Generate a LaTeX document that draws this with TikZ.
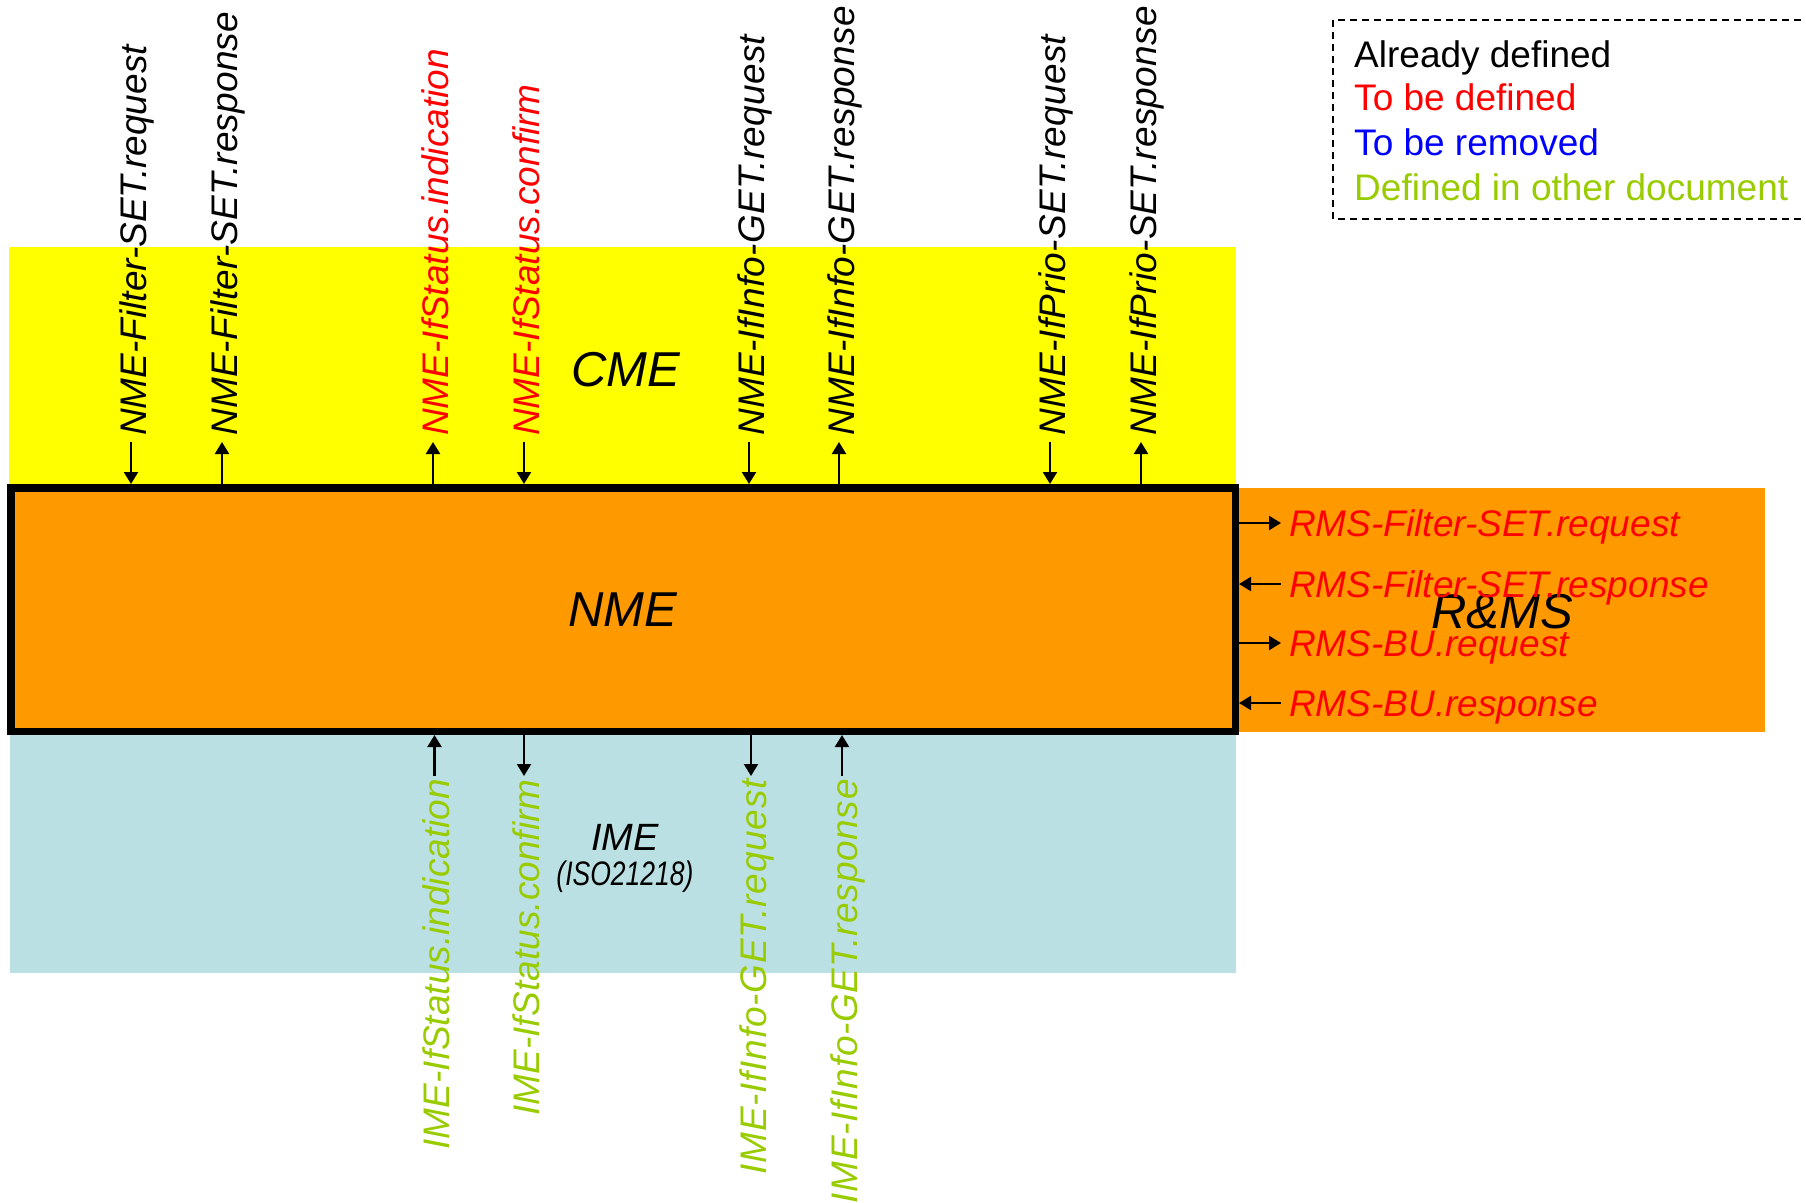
\documentclass[tikz,border=0pt]{standalone}
\usepackage{fontspec}
\setmainfont{Liberation Sans}
\usetikzlibrary{arrows.meta}
\definecolor{cmeyellow}{RGB}{255,255,0}
\definecolor{nmeorange}{RGB}{255,153,0}
\definecolor{imeblue}{RGB}{187,224,227}
\definecolor{tbdred}{RGB}{255,0,0}
\definecolor{rmvblue}{RGB}{0,0,255}
\definecolor{othergreen}{RGB}{153,204,0}

\begin{document}
\begin{tikzpicture}[x=1pt,y=-1pt,
  tipshape/.style={line width=2.2pt},
  into/.style={tipshape, -{Triangle[length=12pt,width=14pt]}},
  outof/.style={tipshape, {Triangle[length=12pt,width=14pt]}-},
  prim/.style={font=\fontsize{37}{44}\selectfont\itshape, inner sep=0pt},
  vprim/.style={prim, rotate=90},
  entity/.style={font=\fontsize{49}{58}\selectfont\itshape, inner sep=0pt},
  legendtxt/.style={font=\fontsize{37}{44}\selectfont, inner sep=0pt, anchor=base west}]

\useasboundingbox (0,0) rectangle (1806,1202);
\clip (0,0) rectangle (1806,1202);

% management entity areas
\fill[cmeyellow] (9,246.5) rectangle (1236,490);
\fill[imeblue] (10,730) rectangle (1236,973);
\fill[nmeorange] (1235,488) rectangle (1765,732);

% NME block
\node[draw, line width=7.5pt, fill=nmeorange, minimum width=1224.5pt,
      minimum height=243.5pt, entity] (nme) at (623,609.5) {NME};

% entity names
\node[entity, anchor=base] (cme) at (626,386) {CME};
\node[entity, anchor=base] (rms) at (1502,628) {R\&MS};
\node[font=\fontsize{38}{46}\selectfont\itshape, inner sep=0pt, anchor=base] (ime) at (625,850) {IME};
\node[font=\fontsize{34}{40}\selectfont\itshape, inner sep=0pt, anchor=base, xscale=0.78] (iso) at (625,885) {(ISO21218)};

% CME <-> NME primitives
\foreach \x/\d/\c/\s/\t [count=\n] in {
    131/into/black/0/NME-Filter-SET.request,
    222/outof/black/0.55/NME-Filter-SET.response,
    433/outof/tbdred/0/NME-IfStatus.indication,
    524/into/tbdred/0/NME-IfStatus.confirm,
    749/into/black/0.7/NME-IfInfo-GET.request,
    839/outof/black/0.65/NME-IfInfo-GET.response,
    1050/into/black/0.7/NME-IfPrio-SET.request,
    1141/outof/black/0.65/NME-IfPrio-SET.response} {
  \coordinate (ct\n) at (\x,442);
  \draw[\d] (ct\n) -- (ct\n |- nme.north);
  \node[vprim, anchor=base west, text=\c] (cl\n) at (\x+15,436)
    {\addfontfeature{LetterSpace=\s}\t};
}

% IME <-> NME primitives
\foreach \x/\d/\s/\t [count=\n] in {
    434.5/into/0/IME-IfStatus.indication,
    524/outof/0.2/IME-IfStatus.confirm,
    751/outof/2.1/IME-IfInfo-GET.request,
    842/into/2.0/IME-IfInfo-GET.response} {
  \coordinate (it\n) at (\x,776);
  \draw[\d] (it\n) -- (it\n |- nme.south);
  \node[vprim, anchor=base east, text=othergreen] (il\n) at (\x+15,779)
    {\addfontfeature{LetterSpace=\s}\t};
}

% R&MS <-> NME primitives
\foreach \y/\d/\t [count=\n] in {
    523/outof/RMS-Filter-SET.request,
    584/into/RMS-Filter-SET.response,
    643/outof/RMS-BU.request,
    703/into/RMS-BU.response} {
  \coordinate (rt\n) at (1281,\y);
  \draw[\d] (rt\n) -- (rt\n -| nme.east);
  \node[prim, anchor=base west, text=tbdred] (rl\n) at (1289,\y+13) {\t};
}

% colour legend
\draw[line width=2pt, dash pattern=on 7pt off 5pt] (1333,20) rectangle (1830,219);
\node[legendtxt, text=black] (lg1) at (1354,67) {Already defined};
\node[legendtxt, text=tbdred] (lg2) at (1354,110) {To be defined};
\node[legendtxt, text=rmvblue] (lg3) at (1354,155) {To be removed};
\node[legendtxt, text=othergreen] (lg4) at (1354,200) {Defined in other document};
\end{tikzpicture}
\end{document}
